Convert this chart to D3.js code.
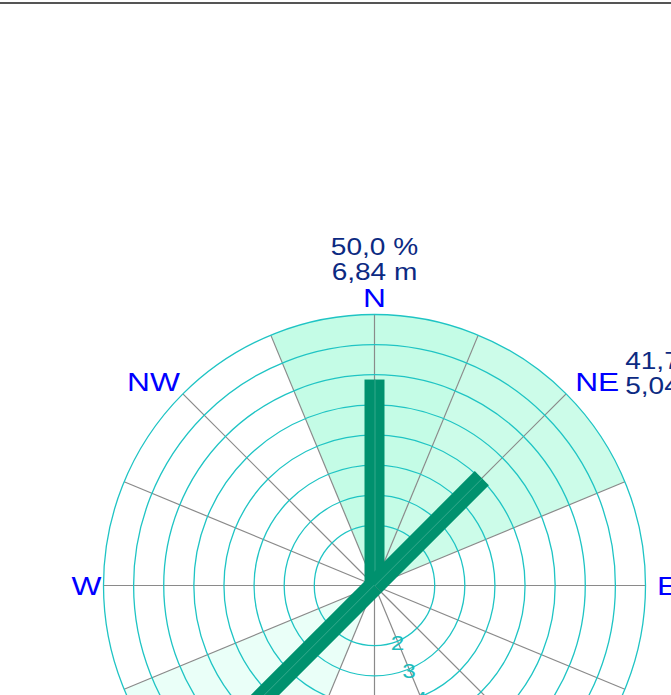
<!DOCTYPE html>
<meta charset="utf-8">
<style>
body { margin: 0; overflow: hidden; background: #fff; }
text { font-family: "Liberation Sans", Arial, sans-serif; }
</style>
<body>
<script src="https://d3js.org/d3.v7.min.js"></script>
<script>

// wind rose data (8 directions)
var directions = ["N", "NE", "E", "SE", "S", "SW", "W", "NW"];
var percents   = [50.0, 41.7, 0, 0, 0, 8.3, 0, 0];     // share per sector, %
var heights    = [6.84, 5.04, 0, 0, 0, 6.10, 0, 0];    // bar length, m
var ringValues = [2, 3, 4, 5, 6, 7, 8, 9];
var ringLabels = [2, 3, 4, 5, 6, 7, 8];

var width = 671, height = 695;
var cx = 374.5, cy = 585.5, R = 271;
var stretch = 1.22;   // text in the original is drawn wide

var svg = d3.select("body").append("svg")
    .attr("width", width)
    .attr("height", height);

// line along the top
svg.append("rect").attr("x", 0).attr("y", 2).attr("width", width).attr("height", 2).attr("fill", "#555");

var g = svg.append("g").attr("transform", "translate(" + cx + "," + cy + ")");

var r = d3.scaleLinear().domain([0, 9]).range([0, R]);
var fillColor = d3.scaleLinear().domain([0, 50]).range(["#f2fffb", "#c4fce6"]);

var rad = function(deg) { return deg * Math.PI / 180; };

function wideText(parent, x, y, txt, anchor, size, color) {
  return parent.append("text")
    .attr("transform", "translate(" + x + "," + y + ") scale(" + stretch + ",1)")
    .attr("text-anchor", anchor)
    .attr("font-size", size)
    .attr("fill", color)
    .text(txt);
}

// sector fills
var arc = d3.arc().innerRadius(0).outerRadius(R);
g.selectAll(".sector")
  .data(directions.map(function(d, i) { return {dir: d, p: percents[i], a: i * 45}; })
        .filter(function(d) { return d.p > 0; }))
  .enter().append("path")
    .attr("class", "sector")
    .attr("d", function(d) { return arc({startAngle: rad(d.a - 22.5), endAngle: rad(d.a + 22.5)}); })
    .attr("fill", function(d) { return fillColor(d.p); });

// radial lines every 22.5 deg
g.selectAll(".spoke")
  .data(d3.range(16))
  .enter().append("line")
    .attr("x1", 0).attr("y1", 0)
    .attr("x2", function(i) { return R * Math.sin(rad(i * 22.5)); })
    .attr("y2", function(i) { return -R * Math.cos(rad(i * 22.5)); })
    .attr("stroke", "#8a8a8a")
    .attr("stroke-width", 1.2);

// rings
g.selectAll(".ring")
  .data(ringValues)
  .enter().append("circle")
    .attr("r", function(d) { return r(d); })
    .attr("fill", "none")
    .attr("stroke", "#1fc4c4")
    .attr("stroke-width", 1.3);

// bars
var barW = 20;
var bars = g.selectAll(".bar")
  .data(directions.map(function(d, i) { return {h: heights[i], a: i * 45}; })
        .filter(function(d) { return d.h > 0; }))
  .enter().append("g")
    .attr("transform", function(d) { return "rotate(" + d.a + ")"; });
bars.append("rect")
    .attr("x", -barW / 2)
    .attr("y", function(d) { return -r(d.h); })
    .attr("width", barW)
    .attr("height", function(d) { return r(d.h); })
    .attr("fill", "#00916e");
bars.append("line")
    .attr("x1", 0.5).attr("x2", 0.5)
    .attr("y1", 0).attr("y2", function(d) { return -r(d.h); })
    .attr("stroke", "#3fae92").attr("stroke-width", 0.8);

// ring labels along SSE spoke
ringLabels.forEach(function(d) {
  wideText(g, r(d) * Math.sin(rad(157.5)), -r(d) * Math.cos(rad(157.5)) + 9,
           d, "middle", 20, "#1fbcbc");
});

// direction labels and values
var LR = 288;
directions.forEach(function(d, i) {
  var a = i * 45;
  var x = LR * Math.sin(rad(a)), y = -LR * Math.cos(rad(a));
  var anchor = "middle";
  if (a % 90 !== 0) {
    anchor = x > 0 ? "start" : "end";
    x = x > 0 ? x - 3 : x + 9;
  }
  if (a === 90) x += 5;
  wideText(g, x, y + 9, d, anchor, 26, "#0000ff");
  if (percents[i] > 0) {
    var l1 = percents[i].toFixed(1).replace(".", ",") + " %";
    var l2 = heights[i].toFixed(2).replace(".", ",") + " m";
    var vx, vy, va;
    if (a === 0) { vx = x; vy = y - 43; va = "middle"; }
    else if (a === 180) { vx = x; vy = y + 36; va = "middle"; }
    else if (x > 0) { vx = x + 50; vy = y - 13; va = "start"; }
    else { vx = x - 60; vy = y - 13; va = "end"; }
    [l1, l2].forEach(function(t, k) {
      wideText(g, vx, vy + k * 25, t, va, 23, "#0c2a82");
    });
  }
});

</script>
</body>
